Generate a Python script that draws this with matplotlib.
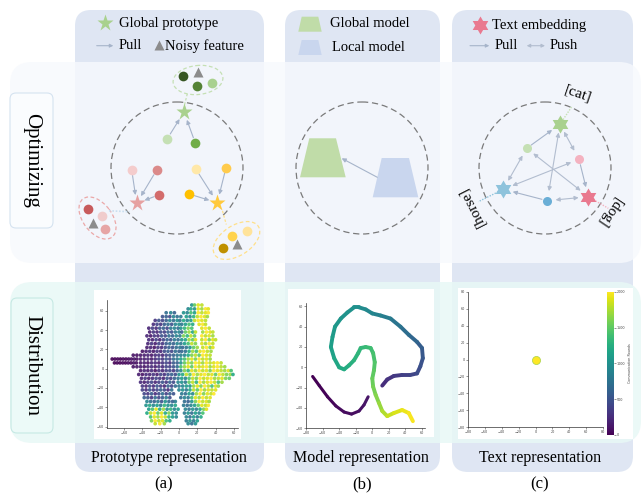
import numpy as np
import matplotlib
matplotlib.use("Agg")
import matplotlib.pyplot as plt
from matplotlib.patches import FancyBboxPatch, Circle, Ellipse, Polygon, Rectangle
from matplotlib.collections import LineCollection
from matplotlib.path import Path

# ---------------------------------------------------------------- data
# (a) prototype embedding, one row of points per y level
proto_rows_y = [66, 62, 58, 54, 50, 46, 42, 38, 34, 30, 26, 22, 18, 14, 10, 6, 2,
                -2, -6, -10, -14, -18, -22, -26, -30, -34, -38, -42, -46, -50, -54, -57]
proto_rows_x = [
    [14, 17, 21, 25],
    [10, 13, 17, 21, 25, 29, 32],
    [-14, -9, -5, 5, 9, 13, 17, 21, 25, 29, 32],
    [-18, -14, -10, -6, -2, 2, 8, 12, 16, 20, 24, 28, 31],
    [-26, -22, -18, -14, -10, -6, -2, 1, 5, 9, 13, 17, 21, 25, 29],
    [-28, -24, -20, -16, -12, -8, -4, 0, 3, 7, 11, 15, 22, 26, 29],
    [-33, -29, -25, -21, -17, -13, -9, -5, -1, 2, 6, 10, 14, 25, 29, 33],
    [-32, -28, -24, -20, -16, -12, -8, -4, 0, 3, 7, 11, 15, 18, 26, 30, 34, 37],
    [-35, -31, -27, -23, -19, -15, -11, -7, -3, 1, 5, 9, 13, 17, 25, 29, 33, 37],
    [-33, -29, -25, -21, -17, -13, -9, -5, -1, 3, 7, 11, 15, 18, 25, 29, 33, 37, 40],
    [-34, -30, -26, -22, -18, -14, -10, -6, -2, 2, 6, 10, 14, 18, 25, 29, 33, 37],
    [-35, -31, -27, -23, -19, -15, -11, -7, -3, 1, 4, 8, 12, 16, 20, 26, 30, 34, 37],
    [-40, -36, -32, -28, -24, -20, -16, -12, -8, -4, 0, 3, 7, 11, 15, 19, 23, 27, 31, 35],
    [-50, -46, -42, -38, -34, -30, -26, -22, -18, -14, -10, -6, -2, 2, 6, 10, 14, 18, 22, 26, 30, 34],
    [-73, -70, -67, -64, -61, -58, -55, -52, -49, -46, -42, -38, -34, -30, -26, -22, -18, -14,
     -10, -6, -2, 2, 6, 10, 14, 18, 22, 26, 30, 34],
    [-70.5, -67.5, -64.5, -61.5, -58.5, -55.5, -52.5, -49.5, -46.5, -42, -38, -34, -30, -26,
     -22, -18, -14, -10, -6, -2, 2, 6, 10, 14, 18, 22, 26, 30, 34, 38, 42, 46],
    [-50, -46, -42, -38, -34, -30, -26, -22, -18, -14, -10, -6, -2, 2, 6, 10, 14, 18, 22, 26,
     30, 34, 38, 42, 46, 50],
    [-42, -38, -34, -30, -26, -22, -18, -14, -10, -6, -2, 2, 6, 10, 14, 18, 22, 26, 30, 34, 38,
     42, 46, 50, 54, 57],
    [-44, -40, -36, -32, -28, -24, -20, -16, -12, -8, -4, 0, 4, 8, 12, 16, 20, 24, 28, 32, 36,
     40, 44, 48, 52, 56, 59],
    [-41, -37, -33, -29, -25, -21, -17, -13, -9, -5, -1, 3, 7, 11, 15, 19, 23, 27, 31, 35, 39,
     43, 47, 51, 55],
    [-42, -38, -34, -30, -26, -22, -18, -14, -10, -6, -1, 3, 7, 11, 15, 19, 23, 27, 31, 35, 39,
     43, 47],
    [-40, -36, -32, -28, -24, -20, -16, -12, -8, -4, 0, 4, 8, 12, 16, 20, 24, 28, 32, 36, 40, 43],
    [-40, -36, -32, -28, -24, -20, -16, -12, -8, 0, 4, 8, 12, 16, 20, 24, 28, 32, 36, 40],
    [-38, -34, -30, -26, -22, -18, -14, -10, -6, 3, 7, 11, 15, 19, 23, 27, 31, 35, 38],
    [-38, -34, -30, -26, -22, -18, -14, -10, 2, 6, 10, 14, 18, 22, 26, 30, 34],
    [-35, -31, -27, -23, -19, -15, -11, -7, -4, 6, 10, 14, 18, 22, 26, 30, 33],
    [-36, -32, -28, -24, -20, -16, -12, -8, -4, 5, 9, 13, 17, 21, 25, 29, 32],
    [-33, -29, -25, -21, -17, -13, -9, -5, -1, 7, 11, 15, 19, 23, 27, 30],
    [-35, -31, -27, -23, -19, -15, -11, -7, -3, 6, 10, 14, 18, 22, 26],
    [-31, -27, -23, -19, -15, -11, -7, -3, 8, 12, 16, 20, 24],
    [-30, -26, -22, -18, -14, -10, 8, 12, 16, 20],
    [-26, -21, -16, 10, 14, 18],
]
proto_rows_c = [
    [0.5, 0.75, 0.95, 0.9],
    [0.45, 0.6, 0.5, 0.95, 0.85, 1.0, 0.95],
    [0.35, 0.45, 0.3, 0.5, 0.45, 0.7, 0.55, 1.0, 0.9, 0.95, 1.0],
    [0.25, 0.3, 0.2, 0.45, 0.35, 0.4, 0.55, 0.45, 0.65, 0.9, 1.0, 0.95, 0.85],
    [0.15, 0.25, 0.2, 0.3, 0.45, 0.35, 0.5, 0.4, 0.6, 0.45, 0.55, 0.9, 1.0, 0.95, 0.9],
    [0.12, 0.2, 0.15, 0.28, 0.35, 0.25, 0.45, 0.5, 0.4, 0.55, 0.7, 0.6, 0.95, 1.0, 0.9],
    [0.1, 0.18, 0.12, 0.25, 0.3, 0.2, 0.4, 0.45, 0.35, 0.5, 0.65, 0.8, 0.7, 0.95, 1.0, 0.9],
    [0.08, 0.15, 0.1, 0.22, 0.18, 0.3, 0.25, 0.4, 0.45, 0.3, 0.75, 0.85, 0.6, 0.9, 0.85, 1.0, 0.95, 0.9],
    [0.1, 0.06, 0.15, 0.12, 0.25, 0.2, 0.35, 0.3, 0.45, 0.4, 0.8, 0.65, 0.9, 0.75, 1.0, 0.9, 0.95, 0.85],
    [0.12, 0.08, 0.18, 0.1, 0.2, 0.3, 0.25, 0.4, 0.35, 0.5, 0.6, 0.85, 0.75, 0.95, 0.9, 1.0, 0.8, 0.95, 0.9],
    [0.1, 0.15, 0.08, 0.2, 0.15, 0.28, 0.35, 0.3, 0.45, 0.4, 0.55, 0.7, 0.9, 0.8, 0.95, 0.85, 1.0, 0.9],
    [0.08, 0.1, 0.05, 0.15, 0.12, 0.22, 0.3, 0.25, 0.35, 0.4, 0.32, 0.38, 0.5, 0.75, 0.85, 0.9, 1.0, 0.8, 0.95],
    [0.05, 0.08, 0.12, 0.06, 0.15, 0.1, 0.22, 0.28, 0.2, 0.35, 0.3, 0.32, 0.36, 0.6, 0.85, 0.7, 0.95, 1.0, 0.9, 0.85],
    [0.05, 0.04, 0.06, 0.08, 0.1, 0.06, 0.12, 0.15, 0.1, 0.2, 0.25, 0.3, 0.38, 0.42, 0.45, 0.6, 0.8, 0.9,
     0.75, 1.0, 0.95, 0.9],
    [0.0, 0.0, 0.01, 0.0, 0.02, 0.01, 0.03, 0.04, 0.05, 0.04, 0.06, 0.08, 0.1, 0.07, 0.12, 0.18, 0.15, 0.25,
     0.2, 0.35, 0.4, 0.55, 0.7, 0.85, 0.95, 0.8, 1.0, 0.9, 0.95, 0.85],
    [0.0, 0.01, 0.0, 0.02, 0.01, 0.03, 0.02, 0.05, 0.04, 0.06, 0.08, 0.05, 0.1, 0.12, 0.08, 0.15, 0.2, 0.14,
     0.28, 0.3, 0.5, 0.75, 0.9, 0.8, 1.0, 0.95, 0.85, 1.0, 0.9, 0.95, 1.0, 0.9],
    [0.05, 0.06, 0.08, 0.05, 0.1, 0.12, 0.08, 0.15, 0.12, 0.2, 0.18, 0.25, 0.35, 0.7, 0.85, 0.95, 0.75, 1.0,
     0.9, 0.95, 1.0, 0.85, 0.95, 1.0, 0.9, 0.85],
    [0.06, 0.1, 0.08, 0.12, 0.05, 0.15, 0.1, 0.18, 0.22, 0.15, 0.3, 0.45, 0.8, 0.65, 0.95, 0.85, 1.0, 0.9,
     0.95, 0.8, 1.0, 0.95, 0.9, 0.85, 0.95, 0.7],
    [0.08, 0.05, 0.12, 0.1, 0.15, 0.08, 0.2, 0.14, 0.25, 0.3, 0.22, 0.5, 0.6, 0.9, 0.75, 1.0, 0.85, 0.95,
     1.0, 0.9, 0.95, 0.75, 1.0, 0.9, 0.8, 0.85, 0.6],
    [0.1, 0.15, 0.08, 0.12, 0.2, 0.15, 0.1, 0.25, 0.18, 0.3, 0.4, 0.55, 0.45, 0.7, 0.9, 0.8, 1.0, 0.9,
     0.95, 1.0, 0.85, 0.9, 0.95, 0.8, 0.75],
    [0.12, 0.08, 0.15, 0.2, 0.1, 0.18, 0.25, 0.15, 0.3, 0.22, 0.45, 0.5, 0.4, 0.75, 0.9, 0.65, 1.0, 0.85,
     0.95, 1.0, 0.9, 0.7, 0.85],
    [0.15, 0.1, 0.2, 0.12, 0.25, 0.18, 0.1, 0.3, 0.2, 0.35, 0.4, 0.45, 0.55, 0.5, 0.85, 0.95, 0.8, 1.0,
     0.9, 0.7, 0.95, 0.85],
    [0.18, 0.12, 0.25, 0.15, 0.2, 0.3, 0.22, 0.12, 0.35, 0.45, 0.5, 0.4, 0.6, 0.9, 0.75, 1.0, 0.85, 0.95, 0.9, 0.95],
    [0.2, 0.15, 0.28, 0.12, 0.22, 0.35, 0.18, 0.3, 0.25, 0.4, 0.35, 0.55, 0.45, 0.85, 1.0, 0.8, 0.95, 0.9, 1.0],
    [0.3, 0.25, 0.15, 0.35, 0.2, 0.28, 0.4, 0.22, 0.35, 0.45, 0.4, 0.7, 0.95, 0.85, 1.0, 0.9, 0.95],
    [0.45, 0.35, 0.3, 0.4, 0.25, 0.5, 0.35, 0.3, 0.42, 0.35, 0.3, 0.5, 0.8, 1.0, 0.9, 0.95, 0.85],
    [0.5, 0.6, 0.45, 0.55, 0.4, 0.65, 0.5, 0.45, 0.6, 0.4, 0.35, 0.45, 0.55, 0.75, 0.95, 0.9, 1.0],
    [0.55, 0.7, 0.95, 0.6, 0.85, 0.5, 0.65, 0.45, 0.55, 0.45, 0.38, 0.5, 0.42, 0.6, 0.8, 0.95],
    [0.6, 0.9, 1.0, 0.75, 0.95, 0.6, 0.8, 0.5, 0.45, 0.4, 0.5, 0.35, 0.55, 0.45, 0.7],
    [0.7, 0.95, 0.85, 1.0, 0.9, 0.65, 0.55, 0.45, 0.45, 0.35, 0.55, 0.4, 0.6],
    [0.8, 1.0, 0.9, 0.95, 0.7, 0.6, 0.4, 0.5, 0.38, 0.55],
    [0.9, 1.0, 0.85, 0.45, 0.35, 0.5],
]

# (b) model trajectories (x, y, colour value)
model_a_x = [-72, -64, -54, -44, -34, -25, -16, -10, -5]
model_a_y = [-9, -18, -29, -38, -44, -46, -43, -37, -29]
model_a_c = [0.0, 0.0, 0.01, 0.02, 0.03, 0.03, 0.04, 0.05, 0.06]

model_b_x = [12, 18, 26, 36, 46, 54, 58, 61, 60, 54, 44, 34, 22, 10, 0, -8, -16, -22, -30,
             -38, -45, -48, -50, -46, -40, -34, -28, -22, -17, -14, -8, -2, 1, 3, 2, 0, 1, 4,
             8, 12, 18, 26, 36, 44, 49]
model_b_y = [-18, -12, -8.5, -7.5, -7.5, -6, 1, 9, 19, 25, 32, 40, 48, 51, 53, 57, 59, 59, 54,
             48, 40, 30, 20, 9, 0, -2, 2, 7, 14, 19, 20, 19, 14, 5, -3, -11, -19, -27,
             -35, -43, -48, -45, -42, -45, -53]
model_b_c = [0.12, 0.14, 0.16, 0.18, 0.2, 0.22, 0.24, 0.26, 0.28, 0.31, 0.34, 0.37, 0.4, 0.43,
             0.45, 0.47, 0.49, 0.5, 0.51, 0.52, 0.53, 0.55, 0.56, 0.58, 0.6, 0.61, 0.62, 0.64,
             0.65, 0.66, 0.67, 0.69, 0.7, 0.72, 0.74, 0.76, 0.78, 0.8, 0.83, 0.86, 0.9, 0.93,
             0.96, 0.98, 1.0]

# (c) text embeddings collapse onto one point
text_x = [0.0]
text_y = [0.0]
text_round = [2000]
round_ticks = [0, 500, 1000, 1500, 2000]

# ---------------------------------------------------------------- canvas
W, H = 643, 493
SERIF = "Liberation Serif"
PULL = "#a6b4ca"
PUSH = "#b2bdcf"

fig = plt.figure(figsize=(W / 100, H / 100), dpi=100)
fig.patch.set_facecolor("white")
ax = fig.add_axes([0, 0, 1, 1])
ax.set_xlim(0, W)
ax.set_ylim(H, 0)
ax.axis("off")


def rbox(x0, y0, x1, y1, r, fc, ec="none", lw=0, alpha=1.0, z=1):
    p = FancyBboxPatch((x0, y0), x1 - x0, y1 - y0,
                       boxstyle=f"round,pad=0,rounding_size={r}",
                       fc=fc, ec=ec, lw=lw, alpha=alpha, zorder=z)
    ax.add_patch(p)


def arrow(p, q, style="-|>", color=PULL, sa=4.0, sb=6.0, lw=0.8, ms=6):
    ax.annotate("", xy=q, xytext=p, zorder=5,
                arrowprops=dict(arrowstyle=style, color=color, lw=lw,
                                shrinkA=sa, shrinkB=sb, mutation_scale=ms))


def dot(x, y, color, ms=7.0, marker="o", z=6):
    ax.plot([x], [y], marker=marker, ms=ms, color=color, mec="none", ls="none", zorder=z)


def txt(x, y, s, size=10.5, **kw):
    kw.setdefault("va", "center")
    ax.text(x, y, s, fontsize=size, family=SERIF, color="black", zorder=8, **kw)


HEX = Path.unit_regular_star(6, innerCircle=0.577)

# column panels
for x0, x1 in [(75, 264), (285, 440), (452, 633)]:
    rbox(x0, 10, x1, 472, 16, "#dfe6f3", z=1)

# horizontal bands
rbox(10, 62, 641, 263, 22, "#f7f9fd", alpha=0.82, z=2)
rbox(10, 282, 641, 443, 22, "#e8f8f6", alpha=0.85, z=2)

# row labels
rbox(10, 93, 53, 228, 6, "#fafcfe", ec="#d5e3f0", lw=0.8, z=3)
rbox(11, 298, 53, 433, 6, "#ecfaf8", ec="#c6e9e4", lw=0.8, z=3)
txt(31.5, 160.5, "Optimizing", size=15, rotation=270, ha="center")
txt(32, 365.5, "Distribution", size=15, rotation=270, ha="center")

# ---------------------------------------------------------------- legends
dot(105, 23.3, "#a9d18e", ms=12.5, marker="*")
txt(119, 23.5, "Global prototype")
arrow((96.7, 45.7), (113.3, 45.7), sa=0, sb=0, ms=5)
txt(119, 45.7, "Pull")
dot(159.3, 45.2, "#8c8c8c", ms=6.5, marker="^")
txt(165, 45.7, "Noisy feature")

ax.add_patch(Polygon([(298.3, 31.7), (321.7, 31.7), (318.3, 16.7), (301.7, 16.7)],
                     closed=True, fc="#c0dca8", ec="none", zorder=6))
txt(330, 23.5, "Global model")
ax.add_patch(Polygon([(298.3, 55), (321.7, 55), (318.3, 40), (301.7, 40)],
                     closed=True, fc="#c9d6ee", ec="none", zorder=6))
txt(332, 47.5, "Local model")

dot(480, 25, "#e9798f", ms=13, marker=HEX)
txt(491.7, 25.5, "Text embedding")
arrow((470, 45.7), (489.3, 45.7), sa=0, sb=0, ms=5)
txt(494.3, 45.7, "Pull")
arrow((526.7, 45.7), (545, 45.7), style="<|-|>", color=PUSH, sa=0, sb=0, ms=5)
txt(550, 45.7, "Push")

# ---------------------------------------------------------------- (a) optimizing
DASH = (0, (5, 3))
ax.add_patch(Circle((177, 168), 66, fill=False, ec="#7a7a7a", lw=0.9, ls=DASH, zorder=4))

ax.add_patch(Ellipse((198, 80), 50, 29, angle=-6, fill=False, ec="#c5e0b4", lw=0.9,
                     ls=(0, (3, 2)), zorder=4))
ax.add_patch(Ellipse((97.5, 218), 48, 29, angle=53, fill=False, ec="#eba8a8", lw=0.9,
                     ls=(0, (3, 2)), zorder=4))
ax.add_patch(Ellipse((236.5, 240.5), 52, 30, angle=-33, fill=False, ec="#ffe08a", lw=0.9,
                     ls=(0, (3, 2)), zorder=4))
ax.plot([187.3, 184.5], [93.8, 105], color="#c5e0b4", lw=0.9, ls=(0, (2, 1.5)), zorder=4)
ax.plot([109, 129.5], [210.8, 211.7], color="#c9dff0", lw=1.2, ls=(0, (1, 1)), zorder=4)
ax.plot([222.5, 226.3], [211, 224.5], color="#ffe08a", lw=0.9, ls=(0, (2, 1.5)), zorder=4)

g_star, r_star, y_star = (184, 112), (136.7, 203.3), (217.3, 202.7)
for p, c in [((167.3, 138.7), "#c5e0b4"), ((195.3, 143), "#70ad47")]:
    arrow(p, g_star)
    dot(*p, c)
for p, c in [((131.7, 170), "#f4cccc"), ((156.7, 170), "#db8a8a"), ((159.3, 194.7), "#d36c6c")]:
    arrow(p, r_star)
    dot(*p, c)
for p, c in [((196, 169.3), "#ffe8a8"), ((226, 167.7), "#ffcb4c"), ((189, 194), "#ffc000")]:
    arrow(p, y_star)
    dot(*p, c)
dot(*g_star, "#a9d18e", ms=12.5, marker="*", z=7)
dot(*r_star, "#e6a1a1", ms=12.5, marker="*", z=7)
dot(*y_star, "#ffc93c", ms=12.5, marker="*", z=7)

for p, c in [((183.3, 76), "#375623"), ((197.3, 85.7), "#548235"), ((212.3, 83.3), "#a9d18e"),
             ((88.3, 209), "#c75a5b"), ((101.7, 215.7), "#f0cccc"), ((105, 229.3), "#e6a5a5"),
             ((231.7, 236), "#ffd34d"), ((247.3, 231.3), "#ffe39a"), ((222.7, 248.3), "#bf9000")]:
    dot(*p, c)
for p in [(198.3, 71.7), (93.3, 222.7), (237.3, 244.3)]:
    dot(*p, "#8c8c8c", ms=6.5, marker="^")

# ---------------------------------------------------------------- (b) optimizing
ax.add_patch(Circle((362, 168), 66, fill=False, ec="#7a7a7a", lw=0.9, ls=DASH, zorder=4))
ax.add_patch(Polygon([(300, 177.3), (345.7, 177.3), (336, 138.3), (309.3, 138.3)],
                     closed=True, fc="#c0dca8", ec="none", zorder=5))
ax.add_patch(Polygon([(372.7, 197.3), (418.3, 197.3), (409, 158), (381.7, 158)],
                     closed=True, fc="#c9d6ee", ec="none", zorder=5))
arrow((377.3, 177.3), (341.7, 158.3), sa=0, sb=0)

# ---------------------------------------------------------------- (c) optimizing
ax.add_patch(Circle((545, 168), 66, fill=False, ec="#7a7a7a", lw=0.9, ls=DASH, zorder=4))
cat, horse, dog = (560, 124.3), (503.3, 189.3), (588.3, 196.7)
c_g, c_p, c_b = (526.7, 148.3), (579, 159.3), (547.3, 200.7)
ax.plot([560, 571.7], [124.3, 106.7], color="#c5e0b4", lw=1.0, ls=(0, (1, 1)), zorder=4)
ax.plot([503.3, 478.3], [189.3, 201.7], color="#8ec3dc", lw=1.0, ls=(0, (1, 1)), zorder=4)
ax.plot([588.3, 608.3], [196.7, 208.3], color="#f4b2c0", lw=1.0, ls=(0, (1, 1)), zorder=4)

arrow(c_g, cat, sa=4, sb=7)
arrow(c_p, dog, sa=4, sb=7)
arrow(c_b, horse, sa=4, sb=7)
for p, q in [(c_g, horse), (cat, c_p), (cat, c_b), (c_g, dog), (c_p, horse), (c_b, dog)]:
    arrow(p, q, style="<|-|>", color=PUSH, sa=6, sb=7)
dot(*c_g, "#c5e0b4", ms=6.5)
dot(*c_p, "#f4b2c0", ms=6.5)
dot(*c_b, "#6aaed6", ms=6.5)
dot(*cat, "#a9d18e", ms=13, marker=HEX, z=7)
dot(*horse, "#8ec3dc", ms=13, marker=HEX, z=7)
dot(*dog, "#e9798f", ms=13, marker=HEX, z=7)
txt(577.7, 94.3, "[cat]", size=11, rotation=-19, ha="center", rotation_mode="anchor")
txt(471.7, 206.7, "[horse]", size=11, rotation=117, ha="center", rotation_mode="anchor")
txt(609, 211.7, "[dog]", size=11, rotation=-124, ha="center", rotation_mode="anchor")

# ---------------------------------------------------------------- captions
txt(169, 458, "Prototype representation", size=11.5, ha="center")
txt(361, 458, "Model representation", size=11.5, ha="center")
txt(540, 458, "Text representation", size=11.5, ha="center")
txt(164, 484, "(a)", size=12, ha="center")
txt(362, 484, "(b)", size=12, ha="center")
txt(540, 484, "(c)", size=12, ha="center")

# white cards behind the embedded plots
for x0, y0, x1, y1 in [(94, 290, 241, 439), (288.3, 289.3, 434, 437.3), (457.7, 288.3, 632.7, 439)]:
    ax.add_patch(Rectangle((x0, y0), x1 - x0, y1 - y0, fc="white", ec="none", zorder=3))


def inset(x0, y0, x1, y1):
    a = fig.add_axes([x0 / W, 1 - y1 / H, (x1 - x0) / W, (y1 - y0) / H])
    a.set_facecolor("none")
    for s in ("top", "right"):
        a.spines[s].set_visible(False)
    for s in ("left", "bottom"):
        a.spines[s].set_linewidth(0.5)
        a.spines[s].set_color("#333333")
    a.tick_params(labelsize=2.4, length=1.2, width=0.4, pad=1, colors="#444444")
    return a


# (a) prototype scatter
px, py, pc = [], [], []
for yv, xs, cs in zip(proto_rows_y, proto_rows_x, proto_rows_c):
    for xv, cv in zip(xs, cs):
        px.append(xv)
        py.append(yv)
        pc.append(cv)
ax_a = inset(106.7, 300, 238, 428.3)
ax_a.scatter(px, py, c=pc, cmap="viridis", vmin=0, vmax=1, s=7, linewidths=0, alpha=0.9)
ax_a.set_xlim(-79, 64.5)
ax_a.set_ylim(-61.8, 71.2)
ax_a.set_xticks([-60, -40, -20, 0, 20, 40, 60])
ax_a.set_yticks([-60, -40, -20, 0, 20, 40, 60])

# (b) model trajectories
ax_b = inset(306, 303.3, 424.5, 428.3)
cmap = plt.get_cmap("viridis")
for xs, ys, cs, lw in [(model_a_x, model_a_y, model_a_c, 2.2), (model_b_x, model_b_y, model_b_c, 2.8)]:
    pts = np.column_stack([xs, ys])
    segs = np.stack([pts[:-1], pts[1:]], axis=1)
    cols = cmap((np.array(cs[:-1]) + np.array(cs[1:])) / 2)
    ax_b.add_collection(LineCollection(segs, colors=cols, linewidths=lw, capstyle="round",
                                       joinstyle="round"))
ax_b.set_xlim(-80, 63)
ax_b.set_ylim(-60, 63)
ax_b.set_xticks([-80, -60, -40, -20, 0, 20, 40, 60])
ax_b.set_yticks([-60, -40, -20, 0, 20, 40, 60])

# (c) text embedding scatter with colour bar
ax_c = inset(467.7, 291.7, 603.3, 427.3)
sc = ax_c.scatter(text_x, text_y, c=text_round, cmap="viridis", vmin=0, vmax=2000, s=34,
                  edgecolors="#a6d24a", linewidths=0.5)
ax_c.set_xlim(-80, 80)
ax_c.set_ylim(-80, 80)
ax_c.set_xticks(np.arange(-80, 81, 20))
ax_c.set_yticks(np.arange(-80, 81, 20))
cax = fig.add_axes([607.3 / W, 1 - 435 / H, 6.7 / W, 143.3 / H])
cb = fig.colorbar(sc, cax=cax, ticks=round_ticks)
cb.outline.set_linewidth(0)
cax.tick_params(labelsize=2.4, length=1.2, width=0.4, pad=1, colors="#444444")
cb.set_label("Communication Rounds", fontsize=2.4, color="#444444", labelpad=2)

fig.savefig("out.png", dpi=100, facecolor="white")
